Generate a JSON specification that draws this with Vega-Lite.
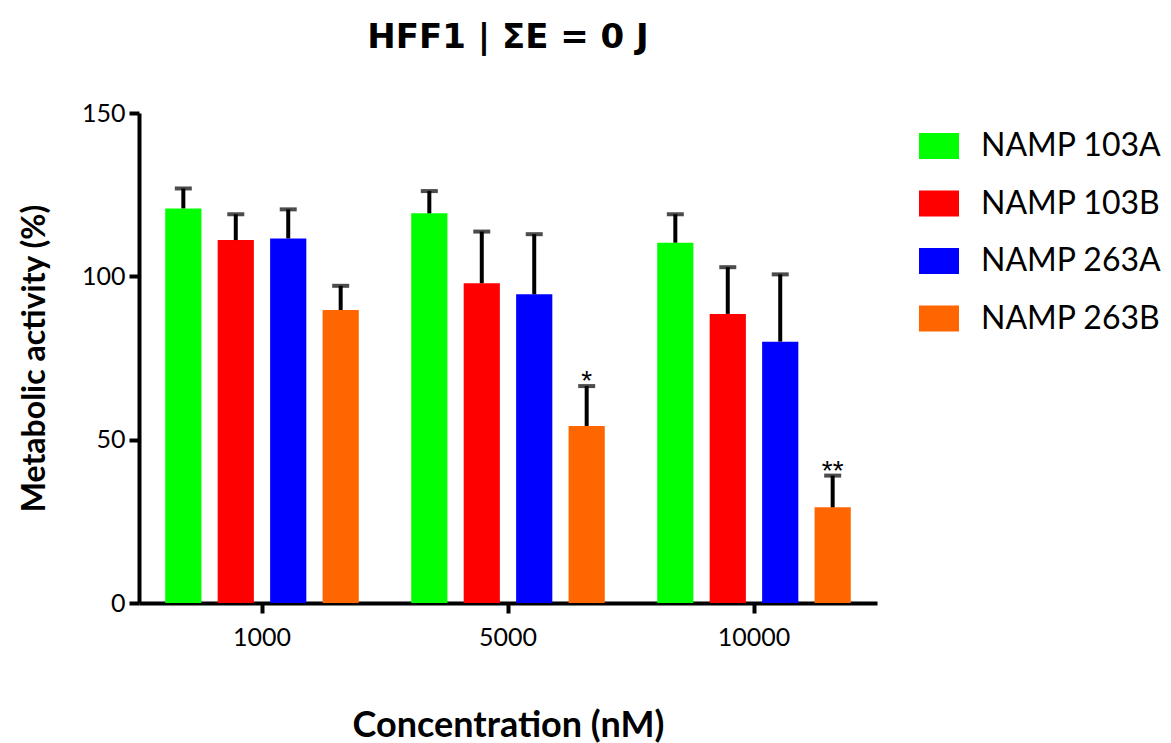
{
  "$schema": "https://vega.github.io/schema/vega-lite/v6.json",
  "autosize": "none",
  "width": 738,
  "height": 490,
  "padding": {"left": 139, "top": 113, "right": 294, "bottom": 140},
  "background": "white",
  "title": {"text": "HFF1 | ΣE = 0 J", "font": "DejaVu Sans", "fontSize": 34, "fontWeight": "bold", "color": "black", "anchor": "middle", "offset": 46},
  "config": {"view": {"stroke": null}},
  "data": {
    "values": [
      {"conc": "1000", "compound": "NAMP 103A", "mean": 120.8, "upper": 126.9, "sig": ""},
      {"conc": "1000", "compound": "NAMP 103B", "mean": 111.1, "upper": 119.0, "sig": ""},
      {"conc": "1000", "compound": "NAMP 263A", "mean": 111.6, "upper": 120.5, "sig": ""},
      {"conc": "1000", "compound": "NAMP 263B", "mean": 89.7, "upper": 97.1, "sig": ""},
      {"conc": "5000", "compound": "NAMP 103A", "mean": 119.3, "upper": 126.1, "sig": ""},
      {"conc": "5000", "compound": "NAMP 103B", "mean": 97.9, "upper": 113.7, "sig": ""},
      {"conc": "5000", "compound": "NAMP 263A", "mean": 94.5, "upper": 112.9, "sig": ""},
      {"conc": "5000", "compound": "NAMP 263B", "mean": 54.2, "upper": 66.4, "sig": "*"},
      {"conc": "10000", "compound": "NAMP 103A", "mean": 110.3, "upper": 119.0, "sig": ""},
      {"conc": "10000", "compound": "NAMP 103B", "mean": 88.5, "upper": 102.8, "sig": ""},
      {"conc": "10000", "compound": "NAMP 263A", "mean": 80.0, "upper": 100.6, "sig": ""},
      {"conc": "10000", "compound": "NAMP 263B", "mean": 29.3, "upper": 39.0, "sig": "**"}
    ]
  },
  "encoding": {
    "x": {
      "field": "conc", "type": "nominal", "sort": ["1000", "5000", "10000"],
      "scale": {"paddingInner": 0, "paddingOuter": 0},
      "title": "Concentration (nM)",
      "axis": {
        "labelAngle": 0, "labelFont": "Lato", "labelFontSize": 25, "labelColor": "black", "labelPadding": 12,
        "domainColor": "black", "domainWidth": 4, "tickColor": "black", "tickWidth": 4, "tickSize": 10,
        "titleFont": "Lato", "titleFontSize": 36, "titleFontWeight": "bold", "titleColor": "black", "titlePadding": 58
      }
    },
    "xOffset": {
      "field": "compound", "type": "nominal", "sort": ["NAMP 103A", "NAMP 103B", "NAMP 263A", "NAMP 263B"],
      "scale": {"paddingInner": 0.31, "paddingOuter": 0.5}
    }
  },
  "layer": [
    {
      "mark": {"type": "bar"},
      "encoding": {
        "y": {
          "field": "mean", "type": "quantitative",
          "scale": {"domain": [0, 150], "nice": false},
          "title": "Metabolic activity (%)",
          "axis": {
            "values": [0, 50, 100, 150], "grid": false,
            "labelFont": "Lato", "labelFontSize": 25, "labelColor": "black", "labelPadding": 4,
            "domainColor": "black", "domainWidth": 4, "tickColor": "black", "tickWidth": 4, "tickSize": 10,
            "titleFont": "Lato", "titleFontSize": 32, "titleFontWeight": "bold", "titleColor": "black", "titlePadding": 30
          }
        },
        "color": {
          "field": "compound", "type": "nominal",
          "scale": {"domain": ["NAMP 103A", "NAMP 103B", "NAMP 263A", "NAMP 263B"], "range": ["#00FF00", "#FF0000", "#0000FF", "#FF6600"]},
          "legend": {
            "title": null, "orient": "none", "legendX": 780, "legendY": 13, "padding": 0,
            "symbolType": "M-1,-0.65H1V0.65H-1Z", "symbolSize": 1600, "symbolStrokeWidth": 0, "symbolOpacity": 1,
            "labelFont": "Lato", "labelFontSize": 32, "labelColor": "black", "labelOffset": 22, "labelLimit": 0, "rowPadding": 21.5
          }
        }
      }
    },
    {
      "mark": {"type": "rule", "strokeWidth": 4, "color": "black"},
      "encoding": {
        "y": {"field": "mean", "type": "quantitative"},
        "y2": {"field": "upper"}
      }
    },
    {
      "mark": {"type": "tick", "thickness": 4, "size": 17, "color": "black"},
      "encoding": {
        "y": {"field": "upper", "type": "quantitative"}
      }
    },
    {
      "mark": {"type": "text", "font": "Liberation Sans", "fontSize": 28, "baseline": "alphabetic", "dy": 4, "color": "black"},
      "encoding": {
        "y": {"field": "upper", "type": "quantitative"},
        "text": {"field": "sig"}
      }
    }
  ]
}
